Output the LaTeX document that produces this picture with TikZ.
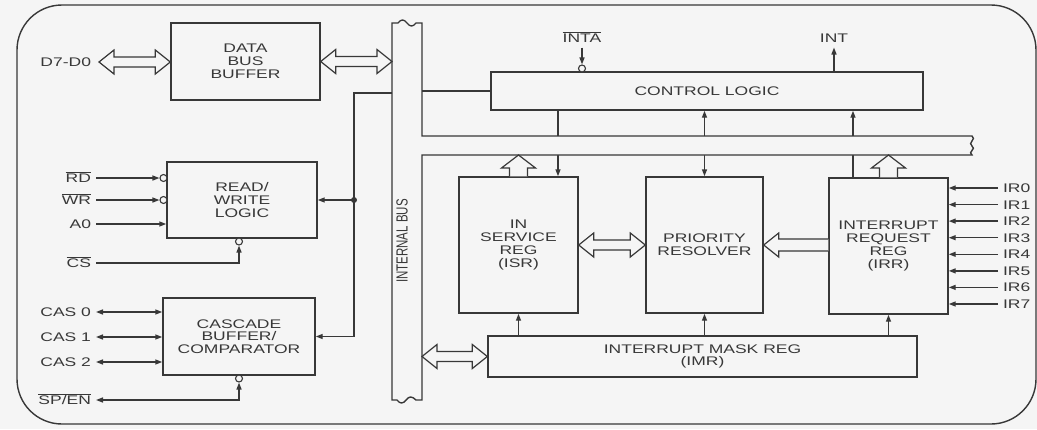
\documentclass[tikz,border=0pt]{standalone}
\usepackage{fontspec}
\setmainfont{Liberation Sans}[FakeStretch=1.4]
\newfontfamily\busfont{Liberation Sans}
\usetikzlibrary{arrows.meta,calc}
\colorlet{bg}{black!4}
\colorlet{ink}{black!78}
\newcommand{\ovl}[1]{$\overline{\mbox{#1}}$}
% hollow bus arrows
\newcommand{\fatlr}[2]{\draw[fat] let \p1=#1, \p2=#2 in
  (\x1,\y1) -- (\x1+15pt,\y1+12pt) -- (\x1+15pt,\y1+5pt) -- (\x2-15pt,\y1+5pt)
  -- (\x2-15pt,\y1+12pt) -- (\x2,\y1) -- (\x2-15pt,\y1-12pt) -- (\x2-15pt,\y1-5pt)
  -- (\x1+15pt,\y1-5pt) -- (\x1+15pt,\y1-12pt) -- cycle;}
\newcommand{\fatl}[2]{\draw[fat] let \p1=#1, \p2=#2 in
  (\x2,\y1+6pt) -- (\x1+15pt,\y1+6pt) -- (\x1+15pt,\y1+12pt) -- (\x1,\y1)
  -- (\x1+15pt,\y1-12pt) -- (\x1+15pt,\y1-6pt) -- (\x2,\y1-6pt);}
\newcommand{\fatup}[2]{\draw[fat] let \p1=#1, \p2=#2 in
  (\x1-9pt,\y1) -- (\x1-9pt,\y2-13pt) -- (\x1-17pt,\y2-13pt) -- (\x1,\y2)
  -- (\x1+17pt,\y2-13pt) -- (\x1+9pt,\y2-13pt) -- (\x1+9pt,\y1);}

\begin{document}
\begin{tikzpicture}[x=1pt,y=-1pt,color=ink,line width=1.4pt,
  >={Triangle[length=7pt,width=5pt]},
  font=\fontsize{12.5}{12.8}\selectfont,
  blok/.style={draw, align=center, inner sep=0pt},
  bub/.style={circle, draw, fill=bg, inner sep=0pt, minimum size=7pt, line width=1.1pt},
  lbl/.style={inner sep=0pt, outer sep=5pt, text height=9pt, text depth=0pt},
  fat/.style={draw, fill=bg, line width=1.2pt, line join=miter}]
\path[use as bounding box, fill=bg] (0,0) rectangle (1037,429);
\draw[rounded corners=45pt] (17,5) rectangle (1036,424);

\node[blok, minimum width=149pt, minimum height=77pt] (dbb) at (245.5,61.5) {DATA\\BUS\\BUFFER};
\node[blok, minimum width=150pt, minimum height=76pt] (rwl) at (242,200) {READ/\\WRITE\\LOGIC};
\node[blok, minimum width=152pt, minimum height=77pt] (cas) at (239,336.5) {CASCADE\\BUFFER/\\COMPARATOR};
\node[blok, minimum width=432pt, minimum height=38pt] (ctl) at (707,91) {CONTROL LOGIC};
\node[blok, minimum width=119pt, minimum height=136pt] (isr) at (518.5,245) {IN\\SERVICE\\REG\\(ISR)};
\node[blok, minimum width=117pt, minimum height=136pt] (pr) at (704.5,245) {PRIORITY\\RESOLVER};
\node[blok, minimum width=119pt, minimum height=136pt] (irr) at (888.5,246) {INTERRUPT\\REQUEST\\REG\\(IRR)};
\node[blok, minimum width=429pt, minimum height=41pt] (imr) at (702.5,356.5) {INTERRUPT MASK REG\\(IMR)};

\coordinate (bl) at (392,0);
\coordinate (br) at (422,0);
\coordinate (hb) at (0,155);

% lines through the bus
\draw[->] ([xshift=39.5pt]isr.north |- ctl.south) -- ([xshift=39.5pt]isr.north);
\draw[<->] (pr.north) -- (pr.north |- ctl.south);
\draw[->] ([xshift=-35.5pt]irr.north) -- ([xshift=-35.5pt]irr.north |- ctl.south);

% internal bus
\draw[fill=bg] (422,136) -- (972,136) .. controls (977,139) and (967,143) .. (972,146)
  .. controls (977,149) and (967,152) .. (972,155) -- (422,155) -- (422,400) -- (416,400)
  .. controls (412,396) and (409,396) .. (406,400) .. controls (403,404) and (400,404) .. (397,400)
  -- (392,400) -- (392,23) -- (398,23) .. controls (401,19) and (404,19) .. (407,23)
  .. controls (410,27) and (413,27) .. (416,23) -- (422,23) -- cycle;
\node[rotate=90, font=\busfont\fontsize{11.5}{12}\selectfont] (busl) at (402,241) {\scalebox{1}[1.4]{INTERNAL BUS}};

\draw (br |- ctl.west) -- (ctl.west);

\node[lbl, anchor=east, outer sep=8pt] (d70) at (99,62) {D7-D0};
\fatlr{(d70.east)}{(dbb.west)}
\fatlr{(dbb.east)}{(dbb.east -| bl)}
\fatlr{(imr.west -| br)}{(imr.west)}
\fatlr{(isr.east)}{(pr.west)}
\fatl{(pr.east)}{(irr.west)}
\fatup{(isr.north)}{(isr.north |- hb)}
\fatup{(irr.north)}{(irr.north |- hb)}

\node[lbl] (inta) at (582,38) {\ovl{INTA}};
\node[bub] (intab) at (582,68.5) {};
\draw[->] (inta) -- (intab);
\node[lbl] (int) at (834,38) {INT};
\draw[->] (ctl.north -| int) -- (int);

\draw[->] (isr.south |- imr.north) -- (isr.south);
\draw[->] (pr.south |- imr.north) -- (pr.south);
\draw[->] (irr.south |- imr.north) -- (irr.south);

\node[lbl, anchor=west] (ir0) at (998,188) {IR0};
\node[lbl, anchor=west] (ir1) at (998,204.6) {IR1};
\node[lbl, anchor=west] (ir2) at (998,221.1) {IR2};
\node[lbl, anchor=west] (ir3) at (998,237.7) {IR3};
\node[lbl, anchor=west] (ir4) at (998,254.3) {IR4};
\node[lbl, anchor=west] (ir5) at (998,270.9) {IR5};
\node[lbl, anchor=west] (ir6) at (998,287.4) {IR6};
\node[lbl, anchor=west] (ir7) at (998,304) {IR7};
\draw[->] (ir0) -- (ir0 -| irr.east);
\draw[->] (ir1) -- (ir1 -| irr.east);
\draw[->] (ir2) -- (ir2 -| irr.east);
\draw[->] (ir3) -- (ir3 -| irr.east);
\draw[->] (ir4) -- (ir4 -| irr.east);
\draw[->] (ir5) -- (ir5 -| irr.east);
\draw[->] (ir6) -- (ir6 -| irr.east);
\draw[->] (ir7) -- (ir7 -| irr.east);

\node[lbl, anchor=east] (rd) at (96,178) {\ovl{RD}};
\node[lbl, anchor=east] (wr) at (96,200) {\ovl{WR}};
\node[lbl, anchor=east] (a0) at (96,224) {A0};
\node[lbl, anchor=east] (cs) at (96,263) {\ovl{CS}};
\node[bub] (rdb) at (163.5,178) {};
\node[bub] (wrb) at (163.5,200) {};
\node[bub] (csb) at (239,241.5) {};
\draw[->] (rd) -- (rdb);
\draw[->] (wr) -- (wrb);
\draw[->] (a0) -- (a0 -| rwl.west);
\draw[->] (cs) -| (csb);

\node[lbl, anchor=east] (cas0) at (96,312) {CAS 0};
\node[lbl, anchor=east] (cas1) at (96,337) {CAS 1};
\node[lbl, anchor=east] (cas2) at (96,362) {CAS 2};
\node[lbl, anchor=east] (spen) at (96,400) {\ovl{SP/EN}};
\node[bub] (spb) at (239,378.5) {};
\draw[<->] (cas0) -- (cas0 -| cas.west);
\draw[<->] (cas1) -- (cas1 -| cas.west);
\draw[<->] (cas2) -- (cas2 -| cas.west);
\draw[<->] (spb) |- (spen);

\coordinate (tap) at (354,93);
\draw[->] (bl |- tap) -- (tap) -- (tap |- cas.east) -- (cas.east);
\draw[->] (tap |- rwl.east) -- (rwl.east);
\fill (tap |- rwl.east) circle (3pt);
\end{tikzpicture}
\end{document}
